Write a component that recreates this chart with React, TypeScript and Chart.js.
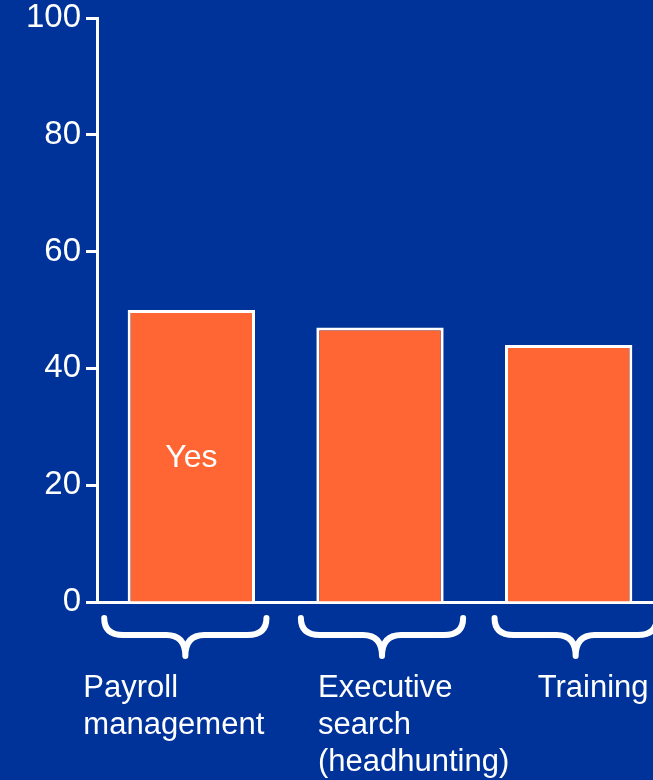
import React, { useEffect, useRef } from "react";
import { Chart, registerables } from "chart.js";

Chart.register(...registerables);

const categories: string[][] = [
  ["Payroll", "management"],
  ["Executive", "search", "(headhunting)"],
  ["Training"],
];
const yesValues: number[] = [50, 47, 44];
const seriesName = "Yes";
const yMin = 0;
const yMax = 100;
const yStep = 20;

const BG = "#003399";
const BAR = "#FF6633";
const WHITE = "#FFFFFF";
const FONT = "'Liberation Sans', Arial, sans-serif";
const LABEL_DX = [-108, -62, -31];
const BRACE_DX = [-6, 2, 7];

const decorPlugin = {
  id: "decor",
  beforeDraw(chart: any) {
    const { ctx, width, height } = chart;
    ctx.save();
    ctx.fillStyle = BG;
    ctx.fillRect(0, 0, width, height);
    ctx.restore();
  },
  afterDraw(chart: any) {
    const { ctx } = chart;
    const xs = chart.scales.x;
    const ys = chart.scales.y;
    const meta = chart.getDatasetMeta(0);
    const catW = (xs.right - xs.left) / categories.length;
    ctx.save();
    // braces
    ctx.strokeStyle = WHITE;
    ctx.lineWidth = 6;
    ctx.lineCap = "round";
    ctx.lineJoin = "round";
    const y0 = 618, y1 = 635, y2 = 656, r = 19;
    categories.forEach((_, i) => {
      const c = xs.getPixelForValue(i) + BRACE_DX[i];
      const half = catW * 0.43;
      const L = c - half, R = c + half;
      ctx.beginPath();
      ctx.moveTo(L, y0);
      ctx.quadraticCurveTo(L, y1, L + r, y1);
      ctx.lineTo(c - r, y1);
      ctx.quadraticCurveTo(c, y1, c, y2);
      ctx.moveTo(R, y0);
      ctx.quadraticCurveTo(R, y1, R - r, y1);
      ctx.lineTo(c + r, y1);
      ctx.quadraticCurveTo(c, y1, c, y2);
      ctx.stroke();
    });
    // category labels
    ctx.fillStyle = WHITE;
    ctx.font = `31px ${FONT}`;
    ctx.textAlign = "left";
    ctx.textBaseline = "alphabetic";
    categories.forEach((lines, i) => {
      const x = xs.getPixelForValue(i) + LABEL_DX[i];
      lines.forEach((ln, j) => {
        ctx.fillText(ln, x, 697 + j * 37);
      });
    });
    // series label inside first bar
    const bar = meta.data[0];
    ctx.font = `32px ${FONT}`;
    ctx.textAlign = "center";
    ctx.textBaseline = "middle";
    ctx.fillText(seriesName, bar.x, ys.getPixelForValue(yesValues[0] / 2) + 2);
    ctx.restore();
  },
};

export default function App() {
  const ref = useRef<HTMLCanvasElement>(null);
  useEffect(() => {
    const canvas = ref.current!;
    const chart = new Chart(canvas, {
      type: "bar",
      data: {
        labels: categories.map((c) => c.join(" ")),
        datasets: [
          {
            label: seriesName,
            data: yesValues,
            backgroundColor: BAR,
            borderColor: WHITE,
            borderWidth: 3,
            borderSkipped: "bottom",
            barPercentage: 0.675,
            categoryPercentage: 1,
          },
        ],
      },
      options: {
        responsive: false,
        animation: false,
        layout: { padding: { top: 18, left: 0, right: 0, bottom: 0 } },
        plugins: { legend: { display: false }, tooltip: { enabled: false } },
        scales: {
          x: {
            grid: { display: true, drawOnChartArea: false, drawTicks: false, color: WHITE },
            ticks: { display: false },
            border: { display: true, color: WHITE, width: 3 },
            afterFit: (s: any) => {
              s.height = 178;
              s.paddingLeft = 0;
              s.paddingRight = 0;
            },
          },
          y: {
            min: yMin,
            max: yMax,
            ticks: {
              stepSize: yStep,
              color: WHITE,
              padding: 5,
              font: { family: FONT, size: 33, lineHeight: 1 },
            },
            grid: {
              drawOnChartArea: false,
              drawTicks: true,
              tickLength: 11,
              color: WHITE,
              tickWidth: 3,
            },
            border: { display: true, color: WHITE, width: 3 },
            afterFit: (s: any) => {
              s.width = 97;
              s.paddingTop = 0;
              s.paddingBottom = 0;
            },
          },
        },
      },
      plugins: [decorPlugin],
    });
    return () => chart.destroy();
  }, []);
  return (
    <div
      style={{
        position: "absolute",
        left: 0,
        top: 0,
        width: 653,
        height: 780,
        overflow: "hidden",
        background: BG,
      }}
    >
      <canvas ref={ref} width={663} height={780} style={{ display: "block" }} />
    </div>
  );
}
